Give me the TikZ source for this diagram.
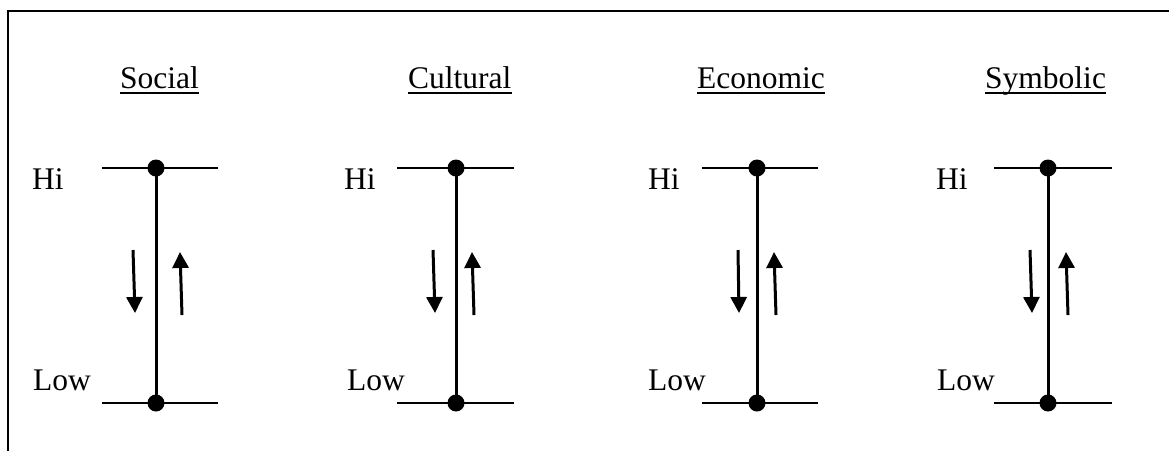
\documentclass[tikz,border=0pt]{standalone}
\usepackage{fontspec}
\setmainfont{Liberation Serif}
\usetikzlibrary{arrows.meta}
\tikzset{
  lbl/.style={inner sep=0pt, anchor=base west, font=\fontsize{31.5}{36}\selectfont},
  dotn/.style={circle, fill=black, inner sep=0pt, minimum size=17pt},
  hline/.style={line width=2.6pt},
  vline/.style={line width=3pt},
  uline/.style={line width=2.4pt},
  flow/.style={line width=3pt, -{Triangle[length=16pt,width=16pt]}},
  frame/.style={line width=2.6pt}
}
\begin{document}
\begin{tikzpicture}[x=1pt,y=-1pt]
\useasboundingbox (0,0) rectangle (1169,451);
% frame
\coordinate (fa) at (8,451);
\coordinate (fb) at (8,11);
\coordinate (fc) at (1169,11);
\draw[frame] (fa) -- (fb) -- (fc);
% panels: id / vertical x / left / right / down top x / down tip x / up bottom x / up tip x / title / title x / Hi x / Low x
\foreach \i/\v/\hl/\hr/\da/\db/\ua/\ub/\ttl/\tx/\hx/\lx in {
  1/156/102/218/133/135/182/180/Social/120/32/33,
  2/456/397/514/433/435/474/472/Cultural/408/344/347,
  3/757/702/818/738/739/776/774/Economic/697/648/648,
  4/1048/994/1112/1030/1032/1068/1066/Symbolic/985/936/937}{
  \node[lbl] (t\i) at (\tx,88) {\ttl};
  \draw[uline] ([yshift=-5pt]t\i.base west) -- ([yshift=-5pt]t\i.base east);
  \node[lbl] (hi\i) at (\hx,189) {Hi};
  \node[lbl] (lo\i) at (\lx,390) {Low};
  \coordinate (tl\i) at (\hl,168);
  \coordinate (tr\i) at (\hr,168);
  \coordinate (bl\i) at (\hl,403);
  \coordinate (br\i) at (\hr,403);
  \draw[hline] (tl\i) -- (tr\i);
  \draw[hline] (bl\i) -- (br\i);
  \node[dotn] (top\i) at (\v,168) {};
  \node[dotn] (bot\i) at (\v,403) {};
  \draw[vline] (top\i.center) -- (bot\i.center);
  \coordinate (ds\i) at (\da,250);
  \coordinate (de\i) at (\db,313);
  \coordinate (us\i) at (\ua,315);
  \coordinate (ue\i) at (\ub,252);
  \draw[flow] (ds\i) -- (de\i);
  \draw[flow] (us\i) -- (ue\i);
}
\end{tikzpicture}
\end{document}
